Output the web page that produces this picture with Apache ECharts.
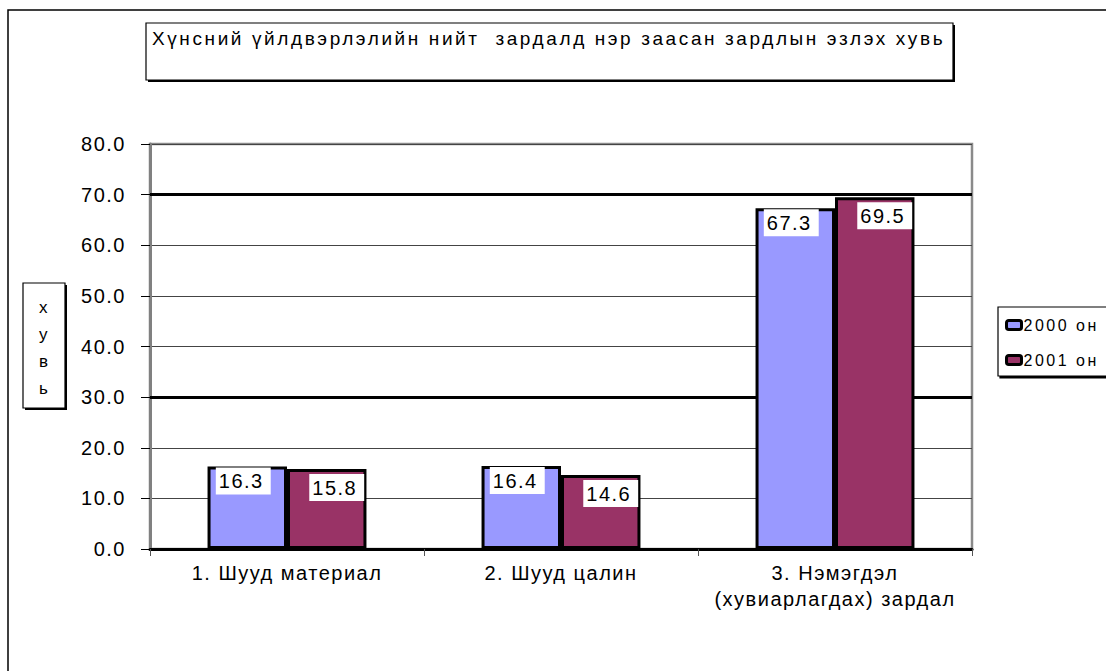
<!DOCTYPE html>
<html>
<head>
<meta charset="utf-8">
<script src="https://cdn.jsdelivr.net/npm/echarts@6/dist/echarts.min.js"></script>
<style>
html,body{margin:0;padding:0;background:#fff;}
#chart{width:1106px;height:671px;}
#chart svg text{letter-spacing:1.5px;}
</style>
</head>
<body>
<div id="chart"></div>
<script>
// өгөгдөл
var titleText = 'Хүнсний үйлдвэрлэлийн нийт  зардалд нэр заасан зардлын эзлэх хувь';
var categories = ['1. Шууд материал', '2. Шууд цалин', '3. Нэмэгдэл\n(хувиарлагдах) зардал'];
var seriesNames = ['2000 он', '2001 он'];
var data2000 = [16.3, 16.4, 67.3];
var data2001 = [15.8, 14.6, 69.5];
var yTicks = [0, 80, 10]; // min, max, interval
var yName = 'х\nу\nв\nь';

var fontFam = 'Arial, "Liberation Sans", sans-serif';

var myChart = echarts.init(document.getElementById('chart'), null, {renderer: 'svg'});

function barLabel(off){
    return {
        show: true,
        position: 'insideTop',
        distance: 0,
        offset: off,
        color: '#000',
        fontSize: 20,
        fontFamily: fontFam,
        backgroundColor: '#fff',
        padding: [4, 10, 3, 6],
        formatter: function(p){ return p.value.toFixed(1); }
    };
}

var option = {
    backgroundColor: '#fff',
    animation: false,
    title: {
        text: titleText,
        left: 152,
        top: 29,
        padding: 0,
        textStyle: {fontSize: 19, fontWeight: 'normal', color: '#000', fontFamily: fontFam}
    },
    graphic: [
        // рамка
        {type: 'rect', z: -10, shape: {x: 8, y: 10, width: 1300, height: 900},
         style: {fill: 'none', stroke: '#000', lineWidth: 1.5}},
        // гарчгийн хайрцаг
        {type: 'rect', z: -9, shape: {x: 148, y: 25, width: 807, height: 57}, style: {fill: '#000'}},
        {type: 'rect', z: -8, shape: {x: 146, y: 23, width: 807, height: 57},
         style: {fill: '#fff', stroke: '#000', lineWidth: 1.2}},
        // y тэнхлэгийн нэр
        {type: 'rect', z: -9, shape: {x: 25, y: 285, width: 42, height: 125}, style: {fill: '#000'}},
        {type: 'rect', z: -8, shape: {x: 23, y: 283, width: 42, height: 125},
         style: {fill: '#fff', stroke: '#000', lineWidth: 1.2}},
        {type: 'text', z: 10, left: 39, top: 294,
         style: {text: yName, lineHeight: 27, fill: '#000', font: '17px ' + fontFam}}
    ],
    legend: {
        orient: 'vertical',
        left: 998,
        top: 307,
        data: seriesNames,
        itemWidth: 15,
        itemHeight: 9,
        itemGap: 19,
        padding: [10, 40, 8, 7],
        borderColor: '#000',
        borderWidth: 1.2,
        backgroundColor: '#fff',
        shadowColor: '#000',
        shadowOffsetX: 2,
        shadowOffsetY: 2,
        shadowBlur: 0,
        itemStyle: {borderColor: '#000', borderWidth: 3},
        textStyle: {fontSize: 16, color: '#000', fontFamily: fontFam, padding: [0, 0, 0, -3]}
    },
    grid: {
        left: 150,
        right: 134,
        top: 144,
        bottom: 122,
        show: true,
        borderColor: '#8a8a8a',
        borderWidth: 2.5,
        containLabel: false
    },
    xAxis: {
        type: 'category',
        data: categories,
        axisLine: {lineStyle: {color: '#000', width: 3}},
        axisTick: {show: true, length: 7, lineStyle: {color: '#555', width: 1}},
        axisLabel: {color: '#000', fontSize: 20, fontFamily: fontFam, margin: 11, lineHeight: 26}
    },
    yAxis: {
        type: 'value',
        min: yTicks[0],
        max: yTicks[1],
        interval: yTicks[2],
        axisLine: {show: true, lineStyle: {color: '#808080', width: 3}},
        axisTick: {show: true, length: 9, lineStyle: {color: '#000', width: 1}},
        axisLabel: {color: '#000', fontSize: 20, fontFamily: fontFam, margin: 24, padding: [4, 0, 0, 0],
            formatter: function(v){ return v.toFixed(1); }},
        splitLine: {show: true, lineStyle: {color: '#444', width: 1}}
    },
    series: [
        {
            name: seriesNames[0],
            type: 'bar',
            data: data2000,
            barGap: '0%',
            barCategoryGap: '42%',
            itemStyle: {color: '#9999ff', borderColor: '#000', borderWidth: 3},
            label: barLabel([-4, 1]),
            markLine: {
                silent: true,
                symbol: 'none',
                label: {show: false},
                lineStyle: {color: '#000', width: 3, type: 'solid'},
                data: [{yAxis: 70}, {yAxis: 30}],
                z: 1
            },
            z: 3
        },
        {
            name: seriesNames[1],
            type: 'bar',
            data: data2001,
            itemStyle: {color: '#993366', borderColor: '#000', borderWidth: 3},
            label: barLabel([10, 5]),
            z: 3
        }
    ]
};

// гарчиг, тайлбарын үсгийн зай өөр
myChart.on('rendered', function(){
    var txts = document.querySelectorAll('#chart svg text');
    for(var i=0;i<txts.length;i++){
        var t = txts[i].textContent;
        if(t == titleText){
            txts[i].style.letterSpacing = '2.6px';
        }else if(seriesNames.indexOf(t) >= 0){
            txts[i].style.letterSpacing = '2.5px';
        }
    }
});

myChart.setOption(option);
</script>
</body>
</html>
